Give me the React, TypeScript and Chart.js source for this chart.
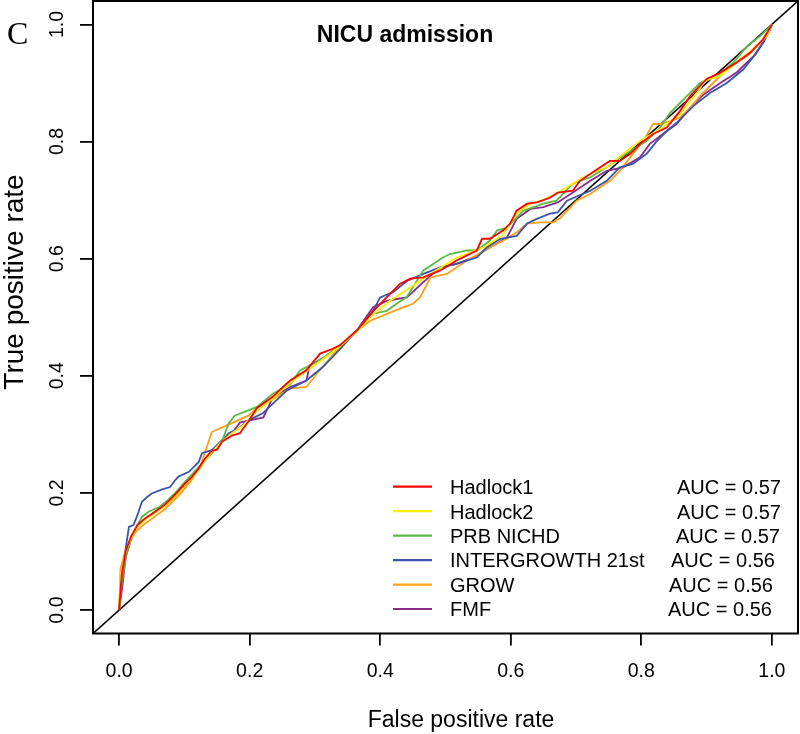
import React, { useEffect, useRef } from "react";
import { Chart, registerables } from "chart.js";

Chart.register(...registerables);

// ---------- data ----------
const TICKS = [0, 0.2, 0.4, 0.6, 0.8, 1.0];
const AXIS_MIN = -0.04;
const AXIS_MAX = 1.04;
const DIAGONAL = [AXIS_MIN, AXIS_MAX];

const TITLE = "NICU admission";
const PANEL_LETTER = "C";
const X_TITLE = "False positive rate";
const Y_TITLE = "True positive rate";

const SERIES_NAMES = ["Hadlock1", "Hadlock2", "PRB NICHD", "INTERGROWTH 21st", "GROW", "FMF"];
const AUC_LABELS = ["AUC = 0.57", "AUC = 0.57", "AUC = 0.57", "AUC = 0.56", "AUC = 0.56", "AUC = 0.56"];

const HADLOCK1: [number, number][] = [
  [0, 0], [0.004, 0.06], [0.01, 0.1], [0.018, 0.125], [0.028, 0.145], [0.04, 0.157], [0.055, 0.168],
  [0.07, 0.18], [0.082, 0.193], [0.092, 0.205], [0.1, 0.215], [0.112, 0.228], [0.122, 0.242], [0.131, 0.258],
  [0.142, 0.272], [0.15, 0.274], [0.158, 0.288], [0.173, 0.298], [0.185, 0.302], [0.198, 0.322], [0.211, 0.345],
  [0.236, 0.365], [0.251, 0.381], [0.262, 0.392], [0.287, 0.41], [0.308, 0.438], [0.325, 0.445], [0.338, 0.452],
  [0.364, 0.477], [0.389, 0.51], [0.415, 0.54], [0.43, 0.557], [0.446, 0.566], [0.466, 0.568], [0.492, 0.58],
  [0.517, 0.597], [0.548, 0.614], [0.556, 0.634], [0.568, 0.634], [0.588, 0.648], [0.599, 0.66], [0.609, 0.682],
  [0.625, 0.694], [0.64, 0.696], [0.66, 0.704], [0.672, 0.713], [0.695, 0.716], [0.706, 0.733], [0.737, 0.756],
  [0.752, 0.767], [0.767, 0.767], [0.783, 0.779], [0.798, 0.796], [0.818, 0.813], [0.839, 0.824], [0.859, 0.852],
  [0.875, 0.878], [0.9, 0.907], [0.921, 0.918], [0.946, 0.935], [0.967, 0.952], [0.987, 0.975], [1, 1],
];

const HADLOCK2: [number, number][] = [
  [0, 0], [0.003, 0.06], [0.01, 0.1], [0.018, 0.122], [0.028, 0.142], [0.04, 0.155], [0.055, 0.166],
  [0.07, 0.178], [0.082, 0.19], [0.092, 0.202], [0.1, 0.213], [0.112, 0.226], [0.122, 0.24], [0.131, 0.255],
  [0.142, 0.27], [0.158, 0.288], [0.173, 0.302], [0.19, 0.315], [0.211, 0.34], [0.236, 0.362], [0.262, 0.388],
  [0.287, 0.408], [0.312, 0.428], [0.338, 0.45], [0.364, 0.476], [0.389, 0.505], [0.415, 0.528], [0.441, 0.547],
  [0.466, 0.566], [0.517, 0.602], [0.558, 0.619], [0.588, 0.641], [0.609, 0.677], [0.63, 0.694], [0.65, 0.7],
  [0.67, 0.711], [0.711, 0.739], [0.732, 0.75], [0.747, 0.756], [0.772, 0.779], [0.778, 0.784], [0.798, 0.801],
  [0.833, 0.824], [0.859, 0.847], [0.875, 0.869], [0.89, 0.89], [0.895, 0.903], [0.921, 0.912], [0.946, 0.935],
  [0.971, 0.958], [0.992, 0.98], [1, 1],
];

const PRB_NICHD: [number, number][] = [
  [0, 0], [0.004, 0.045], [0.01, 0.09], [0.018, 0.12], [0.028, 0.145], [0.035, 0.159], [0.045, 0.168],
  [0.06, 0.175], [0.075, 0.188], [0.09, 0.205], [0.1, 0.218], [0.112, 0.232], [0.125, 0.248], [0.14, 0.265],
  [0.158, 0.29], [0.168, 0.319], [0.177, 0.332], [0.198, 0.341], [0.211, 0.347], [0.236, 0.37], [0.262, 0.385],
  [0.277, 0.409], [0.3, 0.422], [0.312, 0.43], [0.338, 0.452], [0.364, 0.477], [0.389, 0.506], [0.41, 0.511],
  [0.425, 0.523], [0.441, 0.535], [0.466, 0.58], [0.496, 0.602], [0.507, 0.608], [0.533, 0.614], [0.548, 0.614],
  [0.568, 0.631], [0.579, 0.648], [0.594, 0.653], [0.619, 0.682], [0.65, 0.694], [0.67, 0.699], [0.695, 0.728],
  [0.722, 0.739], [0.747, 0.756], [0.783, 0.784], [0.808, 0.801], [0.829, 0.824], [0.844, 0.849], [0.87, 0.878],
  [0.89, 0.9], [0.916, 0.912], [0.941, 0.935], [0.962, 0.963], [0.982, 0.98], [1, 1],
];

const INTERGROWTH: [number, number][] = [
  [0, 0], [0.003, 0.05], [0.009, 0.097], [0.015, 0.142], [0.022, 0.145], [0.027, 0.159], [0.035, 0.185],
  [0.043, 0.193], [0.05, 0.199], [0.066, 0.206], [0.078, 0.21], [0.086, 0.222], [0.091, 0.228], [0.107, 0.236],
  [0.122, 0.253], [0.127, 0.268], [0.142, 0.273], [0.158, 0.29], [0.168, 0.302], [0.183, 0.31], [0.198, 0.324],
  [0.22, 0.336], [0.236, 0.353], [0.257, 0.375], [0.287, 0.392], [0.312, 0.415], [0.338, 0.445], [0.364, 0.477],
  [0.389, 0.511], [0.4, 0.534], [0.42, 0.543], [0.441, 0.562], [0.466, 0.574], [0.492, 0.585], [0.517, 0.591],
  [0.548, 0.602], [0.563, 0.619], [0.584, 0.634], [0.609, 0.639], [0.625, 0.66], [0.64, 0.668], [0.66, 0.677],
  [0.672, 0.679], [0.686, 0.699], [0.722, 0.716], [0.747, 0.733], [0.767, 0.756], [0.787, 0.762], [0.808, 0.779],
  [0.824, 0.801], [0.839, 0.818], [0.854, 0.832], [0.88, 0.861], [0.905, 0.883], [0.931, 0.9], [0.956, 0.923],
  [0.977, 0.952], [0.992, 0.98], [1, 1],
];

const GROW: [number, number][] = [
  [0, 0], [0.002, 0.07], [0.008, 0.095], [0.015, 0.115], [0.025, 0.133], [0.04, 0.148], [0.055, 0.16],
  [0.07, 0.172], [0.082, 0.185], [0.095, 0.2], [0.11, 0.22], [0.125, 0.248], [0.137, 0.287], [0.142, 0.304],
  [0.158, 0.312], [0.198, 0.332], [0.211, 0.345], [0.236, 0.36], [0.262, 0.378], [0.287, 0.381], [0.303, 0.404],
  [0.338, 0.449], [0.364, 0.477], [0.385, 0.494], [0.415, 0.508], [0.435, 0.517], [0.45, 0.523], [0.461, 0.534],
  [0.477, 0.568], [0.502, 0.574], [0.533, 0.597], [0.573, 0.622], [0.594, 0.634], [0.609, 0.645], [0.625, 0.66],
  [0.645, 0.662], [0.665, 0.662], [0.676, 0.67], [0.701, 0.699], [0.722, 0.711], [0.752, 0.733], [0.767, 0.75],
  [0.787, 0.779], [0.803, 0.801], [0.818, 0.83], [0.829, 0.83], [0.844, 0.835], [0.859, 0.841], [0.875, 0.858],
  [0.89, 0.878], [0.91, 0.9], [0.936, 0.929], [0.962, 0.946], [0.982, 0.969], [0.997, 0.992], [1, 1],
];

const FMF: [number, number][] = [
  [0, 0], [0.005, 0.04], [0.01, 0.09], [0.018, 0.12], [0.028, 0.142], [0.04, 0.155], [0.055, 0.168],
  [0.07, 0.178], [0.082, 0.19], [0.092, 0.203], [0.1, 0.212], [0.112, 0.226], [0.122, 0.24], [0.131, 0.256],
  [0.142, 0.27], [0.158, 0.29], [0.173, 0.302], [0.185, 0.32], [0.2, 0.324], [0.221, 0.329], [0.236, 0.364],
  [0.262, 0.381], [0.287, 0.392], [0.292, 0.418], [0.312, 0.43], [0.338, 0.449], [0.364, 0.477], [0.389, 0.517],
  [0.41, 0.528], [0.43, 0.532], [0.441, 0.534], [0.466, 0.56], [0.492, 0.585], [0.517, 0.591], [0.542, 0.602],
  [0.568, 0.619], [0.594, 0.636], [0.609, 0.668], [0.63, 0.685], [0.65, 0.688], [0.672, 0.696], [0.695, 0.713],
  [0.722, 0.733], [0.747, 0.75], [0.772, 0.756], [0.798, 0.773], [0.813, 0.796], [0.833, 0.813], [0.854, 0.83],
  [0.875, 0.858], [0.895, 0.88], [0.921, 0.9], [0.946, 0.918], [0.972, 0.946], [0.987, 0.969], [0.997, 0.991],
  [1, 1],
];

const SERIES = [HADLOCK1, HADLOCK2, PRB_NICHD, INTERGROWTH, GROW, FMF];

// ---------- style / layout ----------
const COLORS = ["#FF0000", "#FFEE00", "#5CB946", "#3A55A8", "#FFA01A", "#8A2B8C"];
const SANS = '"Liberation Sans", Arial, Helvetica, sans-serif';
const SERIF = '"Liberation Serif", "Times New Roman", serif';
const LEGEND_ROW_Y = [486.7, 511.2, 535.7, 560.1, 584.6, 609];
const AUC_X = [677, 677, 676, 671, 669, 668];

const overlayPlugin = {
  id: "overlay",
  afterDraw(chart: any) {
    const ctx: CanvasRenderingContext2D = chart.ctx;
    const a = chart.chartArea;
    ctx.save();
    // box
    ctx.strokeStyle = "#000";
    ctx.lineWidth = 2;
    ctx.strokeRect(a.left, a.top, a.right - a.left, a.bottom - a.top);

    ctx.fillStyle = "#000";
    // y tick labels (rotated, R style)
    const ys = chart.scales.y;
    ctx.font = `19.5px ${SANS}`;
    ctx.textAlign = "center";
    ctx.textBaseline = "alphabetic";
    TICKS.forEach((v) => {
      const py = ys.getPixelForValue(v);
      ctx.save();
      ctx.translate(63.3, py);
      ctx.rotate(-Math.PI / 2);
      ctx.fillText(v.toFixed(1), 0, 0);
      ctx.restore();
    });

    // axis titles
    ctx.font = `23px ${SANS}`;
    ctx.textAlign = "center";
    ctx.fillText(X_TITLE, 461, 727);
    ctx.save();
    ctx.font = `28px ${SANS}`;
    ctx.translate(23, 282);
    ctx.rotate(-Math.PI / 2);
    ctx.fillText(Y_TITLE, 0, 0);
    ctx.restore();

    // main title
    ctx.font = `bold 23px ${SANS}`;
    ctx.fillText(TITLE, 405, 42);

    // panel letter
    ctx.font = `32px ${SERIF}`;
    ctx.textAlign = "left";
    ctx.fillText(PANEL_LETTER, 7, 44);

    // legend
    ctx.font = `20px ${SANS}`;
    ctx.textAlign = "left";
    SERIES_NAMES.forEach((name, i) => {
      const yc = LEGEND_ROW_Y[i];
      ctx.strokeStyle = COLORS[i];
      ctx.lineWidth = 2.2;
      ctx.beginPath();
      ctx.moveTo(393, yc);
      ctx.lineTo(432, yc);
      ctx.stroke();
      ctx.fillText(name, 450, yc + 7.3);
      ctx.fillText(AUC_LABELS[i], AUC_X[i], yc + 7.3);
    });
    ctx.restore();
  },
};

export default function App() {
  const canvasRef = useRef<HTMLCanvasElement | null>(null);

  useEffect(() => {
    document.body.style.margin = "0";
    const canvas = canvasRef.current;
    if (!canvas) return;

    const datasets: any[] = SERIES.map((s, i) => ({
      label: SERIES_NAMES[i],
      data: s.map(([x, y]) => ({ x, y })),
      borderColor: COLORS[i],
      borderWidth: 1.8,
      pointRadius: 0,
      showLine: true,
      fill: false,
      tension: 0,
    }));
    datasets.push({
      label: "reference",
      data: DIAGONAL.map((v) => ({ x: v, y: v })),
      borderColor: "#000",
      borderWidth: 1.6,
      pointRadius: 0,
      showLine: true,
      fill: false,
    });

    const tickSetter = (scale: any) => {
      scale.ticks = TICKS.map((v) => ({ value: v }));
    };

    const chart = new Chart(canvas, {
      type: "scatter",
      data: { datasets },
      options: {
        animation: false,
        responsive: false,
        maintainAspectRatio: false,
        devicePixelRatio: 1,
        layout: { padding: { left: 0, right: 2, top: 1, bottom: 0 } },
        plugins: {
          legend: { display: false },
          tooltip: { enabled: false },
          title: { display: false },
        },
        scales: {
          x: {
            type: "linear",
            min: AXIS_MIN,
            max: AXIS_MAX,
            afterBuildTicks: tickSetter,
            afterFit: (s: any) => {
              s.height = 100.5;
            },
            border: { display: false },
            grid: {
              display: true,
              drawOnChartArea: false,
              drawTicks: true,
              tickLength: 12,
              color: "#000",
              lineWidth: 1.8,
            },
            ticks: {
              color: "#000",
              font: { family: SANS, size: 19.5 },
              padding: 14,
              maxRotation: 0,
              minRotation: 0,
              callback: (v: any) => Number(v).toFixed(1),
            },
          },
          y: {
            type: "linear",
            min: AXIS_MIN,
            max: AXIS_MAX,
            afterBuildTicks: tickSetter,
            afterFit: (s: any) => {
              s.width = 93;
            },
            border: { display: false },
            grid: {
              display: true,
              drawOnChartArea: false,
              drawTicks: true,
              tickLength: 13,
              color: "#000",
              lineWidth: 1.8,
            },
            ticks: { display: false },
          },
        },
      },
      plugins: [overlayPlugin],
    });

    return () => chart.destroy();
  }, []);

  return (
    <div style={{ width: 800, height: 734, background: "#fff" }}>
      <canvas ref={canvasRef} width={800} height={734} style={{ display: "block" }} />
    </div>
  );
}
